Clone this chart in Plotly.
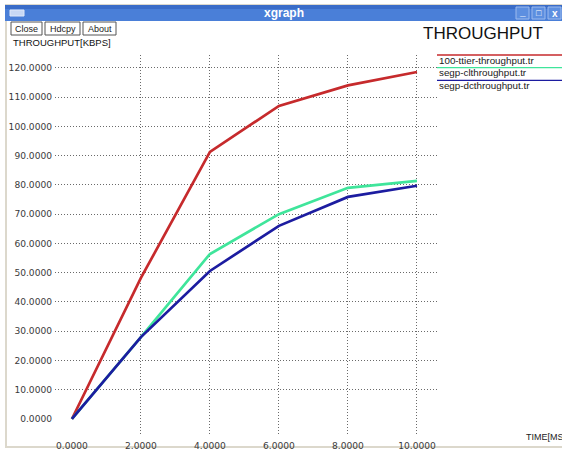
import plotly.graph_objects as go

# ---- data ----
time_ms = [0, 2, 4, 6, 8, 10]
ttier = [0, 48.2, 91.3, 107.0, 114.0, 118.6]
segp_cl = [0, 28.0, 56.4, 70.0, 79.0, 81.4]
segp_dc = [0, 28.0, 50.6, 66.0, 75.9, 79.7]
series_names = ["100-ttier-throughput.tr", "segp-clthroughput.tr", "segp-dcthroughput.tr"]
series_colors = ["#c62a2c", "#3fe59b", "#1c1ca0"]
x_ticks = [0, 2, 4, 6, 8, 10]
y_ticks = [0, 10, 20, 30, 40, 50, 60, 70, 80, 90, 100, 110, 120]

W, H = 562, 450
L, R, T, B = 55, 437, 55, 435
xr = [-0.49, 10.58]
yr = [-5.47, 124.4]

fig = go.Figure()
for ys, name, col in zip([ttier, segp_cl, segp_dc], series_names, series_colors):
    fig.add_trace(go.Scatter(x=time_ms, y=ys, mode="lines", name=name,
                             line=dict(color=col, width=2.7), showlegend=False))

font = "Liberation Sans, Arial, sans-serif"
tfont = "DejaVu Sans, sans-serif"
tickfont = dict(family=tfont, size=9.1, color="#3a3a3a")
grid = dict(showgrid=True, gridcolor="#6a6a6a", griddash="1px,2px", gridwidth=1,
            zeroline=False, showline=False, ticks="", showticklabels=False)

fig.update_layout(
    width=W, height=H,
    margin=dict(l=L, r=W - R, t=T, b=H - B, pad=0),
    paper_bgcolor="white", plot_bgcolor="white",
    xaxis=dict(range=xr, tickvals=x_ticks, ticktext=[f"{v:.4f}" for v in x_ticks],
               showgrid=False, zeroline=False, showline=False, ticks="",
               tickfont=tickfont, automargin=False, ticklabelstandoff=4),
    yaxis=dict(range=yr, tickvals=y_ticks, ticktext=[f"{v:.4f}" for v in y_ticks],
               showgrid=False, zeroline=False, showline=False, ticks="",
               tickfont=tickfont, automargin=False, ticklabelstandoff=2),
    xaxis2=dict(range=xr, overlaying="x", tickvals=x_ticks[1:], **grid),
    yaxis2=dict(range=yr, overlaying="y", tickvals=y_ticks[1:], **grid),
)
fig.add_trace(go.Scatter(x=[None], y=[None], xaxis="x2", yaxis="y2", showlegend=False,
                         hoverinfo="skip"))

shapes = []
ann = []


def px_x(x):
    return (x - L) / (R - L)


def px_y(y):
    return (B - y) / (B - T)


def text(s, x, y, size, color="#111111", xanchor="left", family=font):
    ann.append(dict(text=s, xref="paper", yref="paper", x=px_x(x), y=px_y(y),
                    xanchor=xanchor, yanchor="middle", showarrow=False,
                    font=dict(family=family, size=size, color=color)))


# window frame
shapes.append(dict(type="rect", xref="paper", yref="paper", x0=px_x(6), x1=px_x(570),
                   y0=px_y(447), y1=px_y(5), line=dict(color="#dcd8cc", width=2),
                   fillcolor="rgba(0,0,0,0)", layer="below"))
# title bar
shapes.append(dict(type="rect", xref="paper", yref="paper", x0=px_x(5), x1=px_x(562),
                   y0=px_y(21), y1=px_y(5), line=dict(width=0), fillcolor="#4a7fd8"))
shapes.append(dict(type="rect", xref="paper", yref="paper", x0=px_x(5), x1=px_x(562),
                   y0=px_y(9), y1=px_y(5), line=dict(width=0), fillcolor="#3a6cc8"))
shapes.append(dict(type="rect", xref="paper", yref="paper", x0=px_x(10), x1=px_x(24),
                   y0=px_y(16), y1=px_y(10), line=dict(color="#dfe8f8", width=1), fillcolor="#c8d8f4"))
for bx in [516, 532, 548]:
    shapes.append(dict(type="rect", xref="paper", yref="paper", x0=px_x(bx), x1=px_x(bx + 13),
                       y0=px_y(19), y1=px_y(7), line=dict(color="#9dbbee", width=1), fillcolor="#5d8fe0"))
text("<b>xgraph</b>", 284, 13, 12, "white", "center")
text("<b>_</b>", 522.5, 11, 10, "white", "center")
text("□", 538.5, 13, 9, "white", "center")
text("<b>x</b>", 554.5, 13, 10, "white", "center")

# buttons
for label, bx0, bx1 in [("Close", 11, 42), ("Hdcpy", 45, 80), ("About", 83, 116)]:
    shapes.append(dict(type="rect", xref="paper", yref="paper", x0=px_x(bx0), x1=px_x(bx1),
                       y0=px_y(35), y1=px_y(22), line=dict(color="#555555", width=1), fillcolor="white"))
    text(label, (bx0 + bx1) / 2, 28.5, 9, "#222222", "center")

text("THROUGHPUT[KBPS]", 11, 43, 9.5)
text("THROUGHPUT", 421, 33, 17)
text("TIME[MS", 524, 437, 9, "#222222")

# legend: line above each name
for i, (name, col) in enumerate(zip(series_names, series_colors)):
    ly = 55 + i * 12.7
    shapes.append(dict(type="line", xref="paper", yref="paper", x0=px_x(437), x1=px_x(562),
                       y0=px_y(ly), y1=px_y(ly), line=dict(color=col, width=1.3)))
    text(name, 437, ly + 5, 9.8, "#1a1a1a")

fig.update_layout(shapes=shapes, annotations=ann)
fig.write_html("out.html", config={"displayModeBar": False},
               post_script="document.body.style.margin='0';document.body.style.overflow='hidden';")
